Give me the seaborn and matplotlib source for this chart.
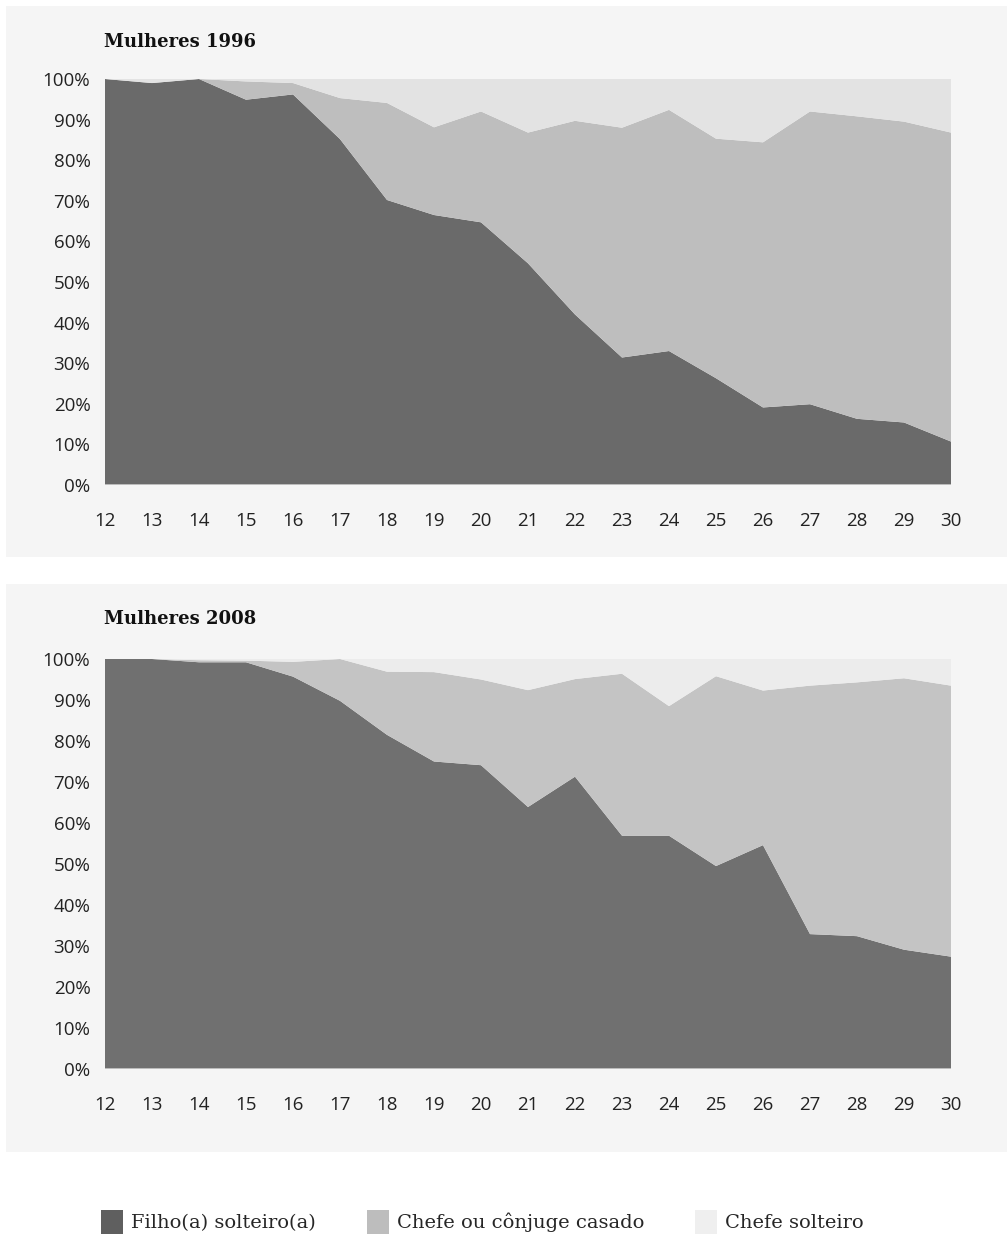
import matplotlib
matplotlib.use("Agg")
import matplotlib.pyplot as plt
from matplotlib.patches import Rectangle, Patch
import seaborn as sns
import numpy as np

# ---- data ----
ages = [12, 13, 14, 15, 16, 17, 18, 19, 20, 21, 22, 23, 24, 25, 26, 27, 28, 29, 30]
series_names = ["Filho(a) solteiro(a)", "Chefe ou cônjuge casado", "Chefe solteiro"]

filho_1996 = [100, 99.0, 100, 94.9, 96.2, 85.2, 70.2, 66.5, 64.7, 54.6, 42.0, 31.4, 33.0, 26.3, 19.1, 19.9, 16.3, 15.4, 10.7]
casado_1996 = [0, 0, 0, 4.5, 2.8, 10.1, 23.9, 21.6, 27.3, 32.2, 47.7, 56.6, 59.4, 59.0, 65.3, 72.1, 74.5, 74.1, 76.1]
solteiro_1996 = [0, 1.0, 0, 0.6, 1.0, 4.7, 5.9, 11.9, 8.0, 13.2, 10.3, 12.0, 7.6, 14.7, 15.6, 8.0, 9.2, 10.5, 13.2]

filho_2008 = [100, 100, 99.2, 99.2, 95.7, 89.8, 81.5, 75.0, 74.1, 63.9, 71.3, 56.9, 56.9, 49.5, 54.6, 32.9, 32.4, 29.1, 27.4]
casado_2008 = [0, 0, 0.5, 0.4, 3.6, 10.2, 15.4, 21.8, 20.9, 28.5, 23.8, 39.5, 31.6, 46.3, 37.7, 60.6, 61.9, 66.2, 66.1]
solteiro_2008 = [0, 0, 0.3, 0.4, 0.7, 0, 3.1, 3.2, 5.0, 7.6, 4.9, 3.6, 11.5, 4.2, 7.7, 6.5, 5.7, 4.7, 6.5]

titles = ["Mulheres 1996", "Mulheres 2008"]
yticks = list(range(0, 101, 10))
ytick_labels = [f"{v}%" for v in yticks]

# ---- style ----
sns.set_theme(style="white")
plt.rcParams["font.family"] = ["Open Sans", "DejaVu Sans"]

W, H = 1007, 1237
fig = plt.figure(figsize=(W / 100, H / 100), dpi=100)
fig.patch.set_facecolor("white")

panel_color = "#f5f5f5"
colors_top = ["#6a6a6a", "#bebebe", "#e3e3e3"]
colors_bot = ["#707070", "#c4c4c4", "#ececec"]
legend_colors = ["#5f5f5f", "#bdbdbd", "#efefef"]

def fx(px):
    return px / W

def fy(py):
    return 1 - py / H

# background panels
for (top, bottom) in [(6, 557), (584, 1152)]:
    fig.patches.append(Rectangle((fx(6), fy(bottom)), 1 - fx(6), (bottom - top) / H,
                                 transform=fig.transFigure, facecolor=panel_color,
                                 edgecolor="none", zorder=-10))

axes_specs = [
    (79, 485, [filho_1996, casado_1996, solteiro_1996], colors_top, titles[0], 42),
    (659, 1069, [filho_2008, casado_2008, solteiro_2008], colors_bot, titles[1], 619),
]

for (top, bottom, data, cols, title, ty) in axes_specs:
    ax = fig.add_axes([fx(105), fy(bottom), fx(951) - fx(105), (bottom - top) / H])
    ax.set_zorder(5)
    ax.set_facecolor(panel_color)
    ax.stackplot(ages, *data, colors=cols, linewidth=0, edgecolor="none")
    ax.set_xlim(12, 30)
    ax.set_ylim(0, 100)
    ax.set_xticks(ages)
    ax.set_xticklabels([str(a) for a in ages])
    ax.set_yticks(yticks)
    ax.set_yticklabels(ytick_labels)
    ax.tick_params(axis="both", length=0, labelsize=13.5, colors="#222222")
    ax.tick_params(axis="y", pad=10.5)
    ax.tick_params(axis="x", pad=19.5)
    ax.grid(False)
    sns.despine(ax=ax, left=True, bottom=True, top=True, right=True)
    ax.axhline(0, color="#cccccc", linewidth=1.2, zorder=5)
    fig.text(fx(104), fy(ty), title, ha="left", va="center",
             fontsize=13, fontweight="bold", family=["DejaVu Serif"], color="#111111")

handles = [Patch(facecolor=c, edgecolor="none") for c in legend_colors]
fig.legend(handles, series_names, loc="center", bbox_to_anchor=(0.479, fy(1222)),
           ncol=3, frameon=False, handlelength=1.13, handleheight=1.5,
           handletextpad=0.42, columnspacing=2.6,
           prop={"family": "DejaVu Serif", "size": 14})

fig.savefig("out.png", dpi=100, facecolor="white")
